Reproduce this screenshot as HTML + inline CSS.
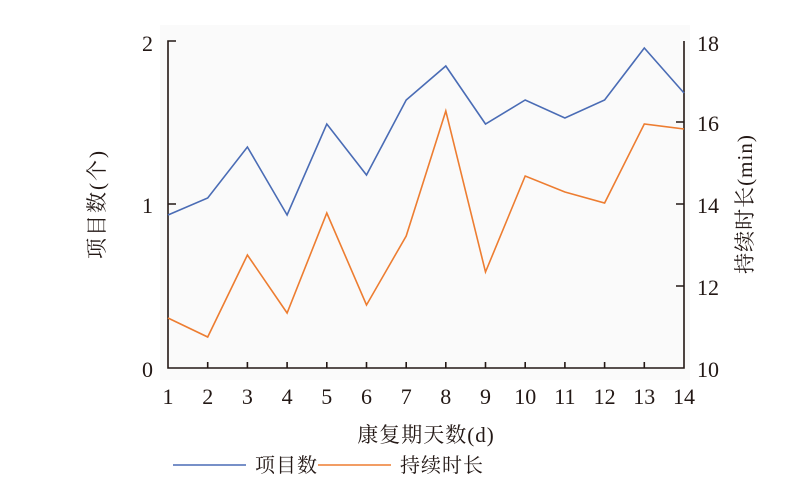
<!DOCTYPE html>
<html><head><meta charset="utf-8"><style>
body{margin:0;background:#fff;}
svg text{font-family:"Liberation Serif","Noto Serif CJK SC",serif;fill:#231815;}
</style></head><body>
<svg width="791" height="496" viewBox="0 0 791 496" xmlns="http://www.w3.org/2000/svg">
<rect x="160" y="25" width="530" height="355" fill="#fafafa"/>
<g stroke="#231815" stroke-width="1.6" fill="none">
<path d="M176 41H168V368H684V41"/>
<path d="M168 204H176M684 122H676M684 204H676M684 286H676"/>
<path d="M207.7 368v-6M247.4 368v-6M287.1 368v-6M326.8 368v-6M366.5 368v-6M406.2 368v-6M445.8 368v-6M485.5 368v-6M525.2 368v-6M564.9 368v-6M604.6 368v-6M644.3 368v-6"/>
</g>
<polyline fill="none" stroke="#4a6cb5" stroke-width="1.6" points="168,215 207.7,198 247.4,147 287.1,215 326.8,124 366.5,175 406.2,100 445.8,66 485.5,124 525.2,100 564.9,118 604.6,100 644.3,48 684,93"/>
<polyline fill="none" stroke="#ed7d31" stroke-width="1.6" points="168,318 207.7,337 247.4,255 287.1,313 326.8,213 366.5,305 406.2,236 445.8,111 485.5,272 525.2,176 564.9,192 604.6,203 644.3,124 684,129"/>
<g font-size="22">
<text x="153" y="51" text-anchor="end">2</text>
<text x="153" y="213" text-anchor="end">1</text>
<text x="153" y="377" text-anchor="end">0</text>
<text x="697" y="51">18</text>
<text x="697" y="131">16</text>
<text x="697" y="213">14</text>
<text x="697" y="295">12</text>
<text x="697" y="377">10</text>
</g>
<g font-size="22" text-anchor="middle">
<text x="168" y="404">1</text><text x="207.7" y="404">2</text><text x="247.4" y="404">3</text><text x="287.1" y="404">4</text><text x="326.8" y="404">5</text><text x="366.5" y="404">6</text><text x="406.2" y="404">7</text><text x="445.8" y="404">8</text><text x="485.5" y="404">9</text><text x="525.2" y="404">10</text><text x="564.9" y="404">11</text><text x="604.6" y="404">12</text><text x="644.3" y="404">13</text><text x="684" y="404">14</text>
</g>
<text x="426" y="442" font-size="21" text-anchor="middle" letter-spacing="1">康复期天数(d)</text>
<text transform="translate(104,204) rotate(-90)" font-size="21" text-anchor="middle" letter-spacing="2">项目数(个)</text>
<text transform="translate(752,204) rotate(-90)" font-size="21" text-anchor="middle" letter-spacing="1">持续时长(min)</text>
<line x1="173" y1="465" x2="246" y2="465" stroke="#4a6cb5" stroke-width="1.6"/>
<text x="255" y="472" font-size="20" letter-spacing="1">项目数</text>
<line x1="318" y1="465" x2="391" y2="465" stroke="#ed7d31" stroke-width="1.6"/>
<text x="400" y="472" font-size="20" letter-spacing="1">持续时长</text>
</svg>
</body></html>
